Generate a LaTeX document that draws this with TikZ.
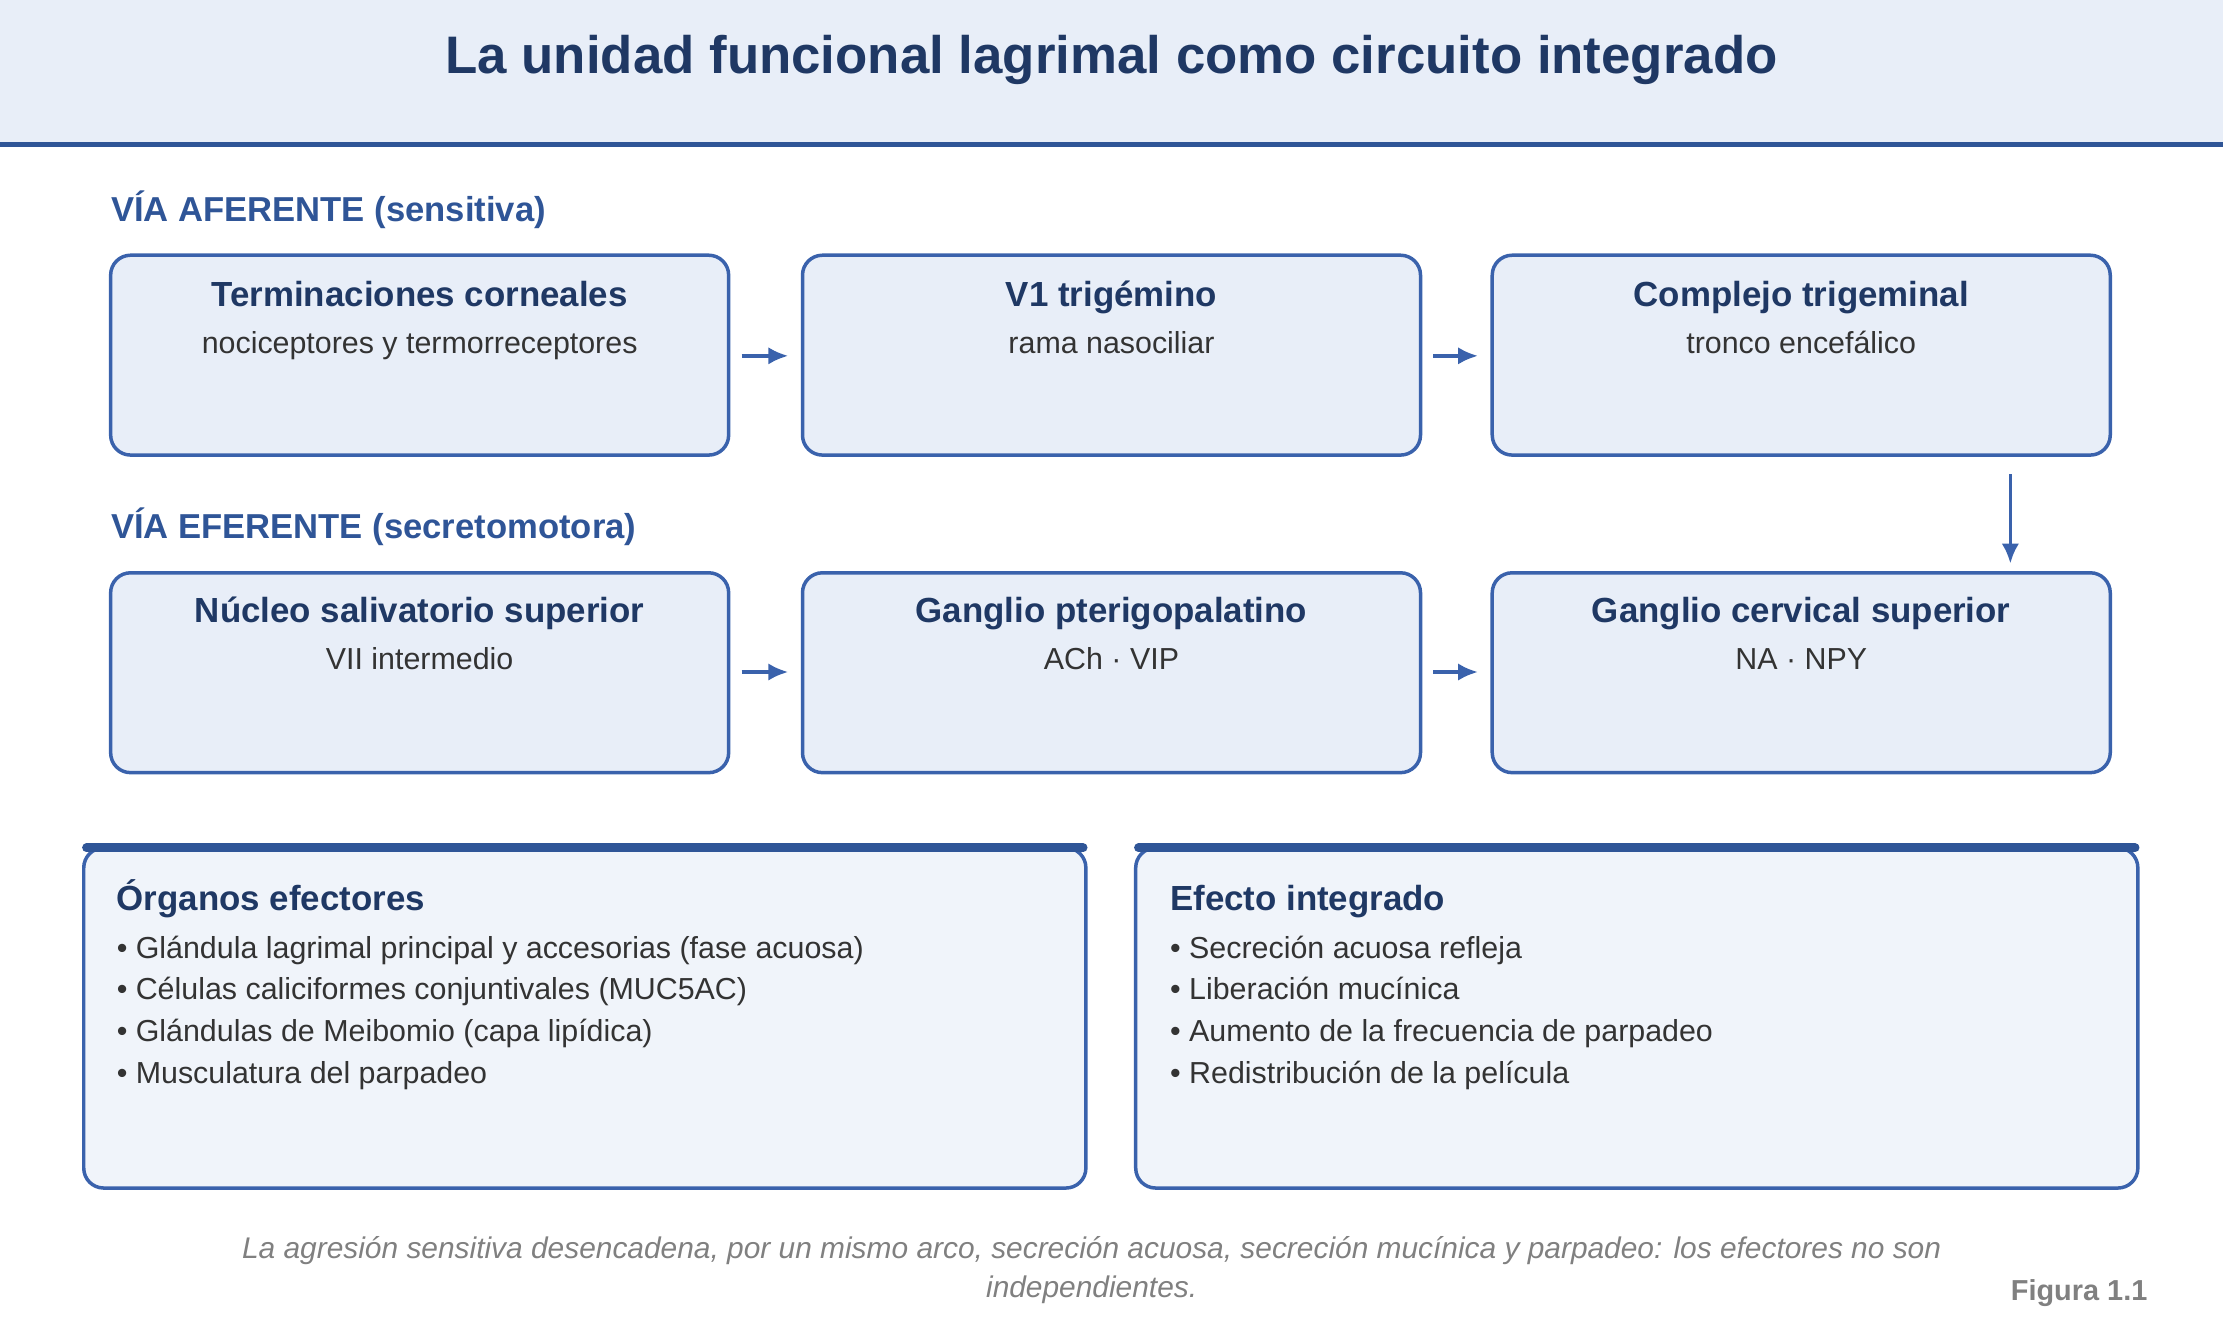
\documentclass[tikz,border=0pt]{standalone}
\usepackage{fontspec}
\setmainfont{Liberation Sans}
\usetikzlibrary{arrows.meta,positioning}
\definecolor{navy}{HTML}{1F3864}
\definecolor{midblue}{HTML}{2F5597}
\definecolor{edgeblue}{HTML}{3A62AC}
\definecolor{boxfill}{HTML}{E8EEF8}
\definecolor{cardfill}{HTML}{F0F4FA}
\definecolor{bodytext}{HTML}{333333}
\tikzset{
  stage/.style={draw=edgeblue,line width=1.4pt,fill=boxfill,rounded corners=8pt,
    minimum width=8.72cm,minimum height=2.82cm,inner sep=0pt},
  card/.style={draw=edgeblue,line width=1.4pt,fill=cardfill,rounded corners=8pt,
    minimum width=14.14cm,minimum height=4.8cm,inner sep=0pt},
  stagetitle/.style={font=\fontsize{14}{16}\selectfont\bfseries,text=navy,anchor=base,inner sep=0pt},
  stagesub/.style={font=\fontsize{12.2}{14}\selectfont,text=bodytext,anchor=base,inner sep=0pt},
  sectlabel/.style={font=\fontsize{13.9}{16}\selectfont\bfseries,text=midblue,anchor=base west,inner sep=0pt},
  flow/.style={-{Latex[length=8pt,width=7pt]},line width=1.5pt,draw=edgeblue},
  bullets/.style={font=\fontsize{12.2}{16.7}\selectfont,text=bodytext,anchor=base west,align=left,inner sep=0pt},
}
\begin{document}
\begin{tikzpicture}[x=0.02cm,y=-0.02cm]
\useasboundingbox (0,0) rectangle (1568,933);
%header
\fill[boxfill](0,0)rectangle(1568,102);
\draw[midblue,line width=2pt](0,102)--(1568,102);
\node[font=\fontsize{21.2}{24}\selectfont\bfseries,text=navy,anchor=base,inner sep=0pt](title)at(784,52){La unidad funcional lagrimal como circuito integrado};
%afferent row
\node[sectlabel](aflabel)at(78,156){VÍA AFERENTE (sensitiva)};
\node[stage](term)at(296,250.5){};
\node[stage](vone)at(784,250.5){};
\node[stage](comp)at(1270.5,250.5){};
\node[stagetitle](termT)at(296,216){Terminaciones corneales};
\node[stagesub](termS)at(296,249){nociceptores y termorreceptores};
\node[stagetitle](voneT)at(784,216){V1 trigémino};
\node[stagesub](voneS)at(784,249){rama nasociliar};
\node[stagetitle](compT)at(1270.5,216){Complejo trigeminal};
\node[stagesub](compS)at(1270.5,249){tronco encefálico};
%efferent row
\node[sectlabel](eflabel)at(78,380){VÍA EFERENTE (secretomotora)};
\node[stage](nucl)at(296,474.5){};
\node[stage](gpte)at(784,474.5){};
\node[stage](gcer)at(1270.5,474.5){};
\node[stagetitle](nuclT)at(296,439){Núcleo salivatorio superior};
\node[stagesub](nuclS)at(296,472){VII intermedio};
\node[stagetitle](gpteT)at(784,439){Ganglio pterigopalatino};
\node[stagesub](gpteS)at(784,472){ACh · VIP};
\node[stagetitle](gcerT)at(1270.5,439){Ganglio cervical superior};
\node[stagesub](gcerS)at(1270.5,472){NA · NPY};
%arrows
\draw[flow,shorten <=4.5pt,shorten >=5pt](term.east|-0,251)--(vone.west|-0,251);
\draw[flow,shorten <=4.5pt,shorten >=5pt](vone.east|-0,251)--(comp.west|-0,251);
\draw[flow,shorten <=4.5pt,shorten >=5pt](nucl.east|-0,474)--(gpte.west|-0,474);
\draw[flow,shorten <=4.5pt,shorten >=5pt](gpte.east|-0,474)--(gcer.west|-0,474);
\coordinate(down)at(1418,0);
\draw[flow,shorten <=7pt,shorten >=3pt](comp.south-|down)--(gcer.north-|down);
%effector cards
\node[card](organs)at(412.5,718){};
\node[card](effect)at(1154.5,718){};
\draw[midblue,line width=3.5pt,line cap=round](61,598)--(764,598);
\draw[midblue,line width=3.5pt,line cap=round](803,598)--(1506,598);
\node[stagetitle,anchor=base west](organsT)at(82,642){Órganos efectores};
\node[bullets](organsL)at(82,764){• Glándula lagrimal principal y accesorias (fase acuosa)\\
• Células caliciformes conjuntivales (MUC5AC)\\
• Glándulas de Meibomio (capa lipídica)\\
• Musculatura del parpadeo};
\node[stagetitle,anchor=base west](effectT)at(825,642){Efecto integrado};
\node[bullets](effectL)at(825,764){• Secreción acuosa refleja\\
• Liberación mucínica\\
• Aumento de la frecuencia de parpadeo\\
• Redistribución de la película};
%caption
\node[font=\fontsize{12}{15.5}\selectfont\itshape,text=gray,align=center](caption)at(770,896){La agresión sensitiva desencadena, por un mismo arco, secreción acuosa, secreción mucínica y parpadeo: los efectores no son\\independientes.};
\node[font=\fontsize{11.6}{12}\selectfont\bfseries,text=gray,anchor=base east,inner sep=0pt](fig)at(1515,917){Figura 1.1};
\end{tikzpicture}
\end{document}
